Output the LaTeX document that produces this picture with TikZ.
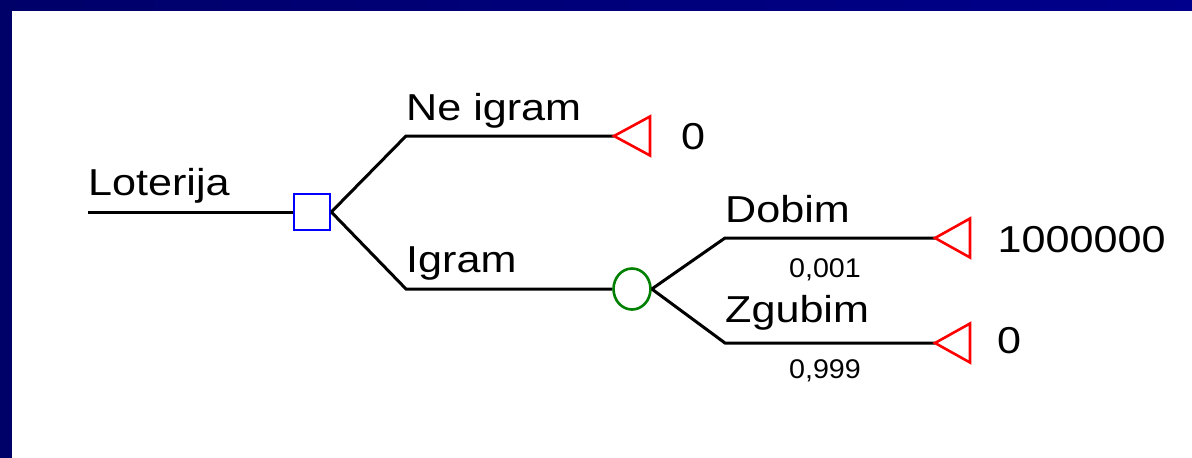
\documentclass[tikz,border=0pt]{standalone}
\usepackage{fontspec}
\setmainfont{Liberation Sans}
\newfontfamily\bigf[FakeStretch=1.15]{Liberation Sans}
\newfontfamily\smallf[FakeStretch=1.06]{Liberation Sans}
\usetikzlibrary{shapes.geometric}
\definecolor{navyl}{RGB}{0,0,105}
\definecolor{navyr}{RGB}{0,0,140}
\definecolor{decblue}{RGB}{0,0,255}
\definecolor{chgreen}{RGB}{0,128,0}
\definecolor{endred}{RGB}{255,0,0}
\begin{document}
\begin{tikzpicture}[x=1pt,y=-1pt,
  branch/.style={line width=3pt, black, line join=miter},
  lbl/.style={anchor=base west, inner sep=0pt, font=\bigf\fontsize{37.5}{40}\selectfont},
  prob/.style={anchor=base west, inner sep=0pt, font=\smallf\fontsize{27}{30}\selectfont},
  endtri/.style={draw=endred, line width=2.6pt, line join=miter},
  decnode/.style={draw=decblue, line width=2.6pt, rectangle, minimum size=36pt, inner sep=0pt},
  chnode/.style={draw=chgreen, line width=2.6pt, ellipse, minimum width=37pt, minimum height=41pt, inner sep=0pt}]
\useasboundingbox (0,0) rectangle (1192,458);
\fill[white] (0,0) rectangle (1192,458);
\shade[left color=navyl, right color=navyr] (0,0) rectangle (1192,10);
\fill[navyl] (0,0) rectangle (12,458);

\coordinate (start) at (88,212);
\node[decnode] (dec) at (312,212) {};
\coordinate (c1) at (406,136);
\coordinate (c2) at (406,289);
\node[chnode] (ch) at (632,289) {};
\coordinate (t1) at (614,136);
\coordinate (c3) at (725,238);
\coordinate (c4) at (725,343);
\coordinate (t2) at (935,238);
\coordinate (t3) at (935,343);

\draw[branch] (start) -- (dec.west);
\draw[branch] (dec.east) -- (c1) -- (t1);
\draw[branch] (dec.east) -- (c2) -- (ch.west);
\draw[branch] (ch.east) -- (c3) -- (t2);
\draw[branch] (ch.east) -- (c4) -- (t3);

\draw[endtri] (t1) -- ++(36,-19.5) -- ++(0,39) -- cycle;
\draw[endtri] (t2) -- ++(35,-19.5) -- ++(0,39) -- cycle;
\draw[endtri] (t3) -- ++(35,-19.5) -- ++(0,39) -- cycle;

\node[lbl] (lot) at (88,195) {Loterija};
\node[lbl] (neig) at (406,120) {Ne igram};
\node[lbl] (ig) at (406,272) {Igram};
\node[lbl] (v1) at (681,149) {0};
\node[lbl] (dob) at (725,222) {Dobim};
\node[lbl] (zg) at (725,322.5) {Zgubim};
\node[lbl] (v2) at (997.5,252) {1000000};
\node[lbl] (v3) at (997,353) {0};
\node[prob] (p1) at (789,277) {0,001};
\node[prob] (p2) at (789,378) {0,999};
\end{tikzpicture}
\end{document}
